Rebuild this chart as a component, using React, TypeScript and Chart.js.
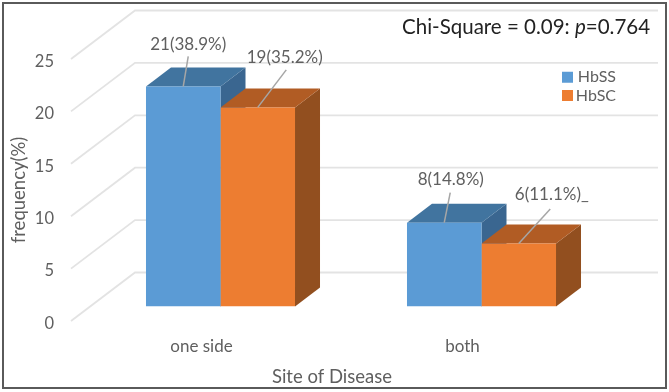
import React, { useEffect, useRef } from "react";
import { Chart, registerables } from "chart.js";

Chart.register(...registerables);

const categories = ["one side", "both"];
const hbssValues = [21, 8];
const hbscValues = [19, 6];
const hbssLabels = ["21(38.9%)", "8(14.8%)"];
const hbscLabels = ["19(35.2%)", "6(11.1%)_"];
const yTicks = [0, 5, 10, 15, 20, 25];
const xTitle = "Site of Disease";
const yTitle = "frequency(%)";

// [leader dx, leader dy, label dx, label dy] relative to the bar's front-top centre
const hbssCallouts = [
  [5, -30, 5, -41.5],
  [6, -30, 6.5, -43.5],
];
const hbscCallouts = [
  [28.5, -37.5, 27, -49.5],
  [31.5, -34.6, 33, -49.6],
];

const FONT = "Lato";
const TEXT = "#5f5f5f";
const DEPTH = { dx: 25, dy: -19 };
const WALL = { frontDy: 14.5, backDy: -34, frontX: 71, backX: 135, right: 658 };
const faceColors = [
  { top: "#41749f", side: "#3a6690" },
  { top: "#b15c24", side: "#924f1f" },
];

const poly = (ctx: CanvasRenderingContext2D, pts: number[][], fill: string) => {
  ctx.beginPath();
  pts.forEach((p, i) => (i ? ctx.lineTo(p[0], p[1]) : ctx.moveTo(p[0], p[1])));
  ctx.closePath();
  ctx.fillStyle = fill;
  ctx.fill();
};

const scene = {
  id: "scene",
  afterLayout(chart: any) {
    const l = chart.legend;
    l.left = 559.7;
    l.right = 616;
    l.top = 67;
    l.bottom = 130;
  },
  beforeDraw(chart: any) {
    const { ctx } = chart;
    ctx.save();
    ctx.fillStyle = "#ffffff";
    ctx.fillRect(0, 0, chart.width, chart.height);
    ctx.strokeStyle = "#5a5a5a";
    ctx.lineWidth = 2;
    ctx.strokeRect(3, 3, 663, 385);
    ctx.restore();
  },
  beforeDatasetsDraw(chart: any) {
    const { ctx } = chart;
    const y = chart.scales.y;
    ctx.save();
    ctx.strokeStyle = "#e3e3e3";
    ctx.lineWidth = 1.8;
    yTicks.forEach((t) => {
      const py = y.getPixelForValue(t);
      ctx.beginPath();
      ctx.moveTo(WALL.frontX, py + WALL.frontDy);
      ctx.lineTo(WALL.backX, py + WALL.backDy);
      ctx.lineTo(WALL.right, py + WALL.backDy);
      ctx.stroke();
    });
    chart.data.datasets.forEach((_: any, di: number) => {
      chart.getDatasetMeta(di).data.forEach((bar: any) => {
        const x0 = bar.x - bar.width / 2;
        const x1 = bar.x + bar.width / 2;
        const { dx, dy } = DEPTH;
        poly(ctx, [[x1, bar.y], [x1, bar.base], [x1 + dx, bar.base + dy], [x1 + dx, bar.y + dy]], faceColors[di].side);
        poly(ctx, [[x0, bar.y], [x1, bar.y], [x1 + dx, bar.y + dy], [x0 + dx, bar.y + dy]], faceColors[di].top);
      });
    });
    ctx.restore();
  },
  afterDatasetsDraw(chart: any) {
    const { ctx } = chart;
    ctx.save();
    const sets = [
      { labels: hbssLabels, callouts: hbssCallouts },
      { labels: hbscLabels, callouts: hbscCallouts },
    ];
    sets.forEach((set, di) => {
      chart.getDatasetMeta(di).data.forEach((bar: any, i: number) => {
        const c = set.callouts[i];
        ctx.strokeStyle = "#a6a6a6";
        ctx.lineWidth = 1.5;
        ctx.beginPath();
        ctx.moveTo(bar.x, bar.y);
        ctx.lineTo(bar.x + c[0], bar.y + c[1]);
        ctx.stroke();
        ctx.fillStyle = TEXT;
        ctx.font = `17px ${FONT}`;
        ctx.textAlign = "center";
        ctx.textBaseline = "middle";
        ctx.fillText(set.labels[i], bar.x + c[2], bar.y + c[3]);
      });
    });

    // axis titles
    ctx.fillStyle = TEXT;
    ctx.font = `18.5px ${FONT}`;
    ctx.textAlign = "center";
    ctx.textBaseline = "middle";
    ctx.fillText(xTitle, 332, 377);
    ctx.save();
    ctx.translate(19, 190);
    ctx.rotate(-Math.PI / 2);
    ctx.fillText(yTitle, 0, 0);
    ctx.restore();

    // statistic note
    ctx.fillStyle = "#222222";
    ctx.textAlign = "left";
    const parts: [string, string][] = [
      ["Chi-Square = 0.09: ", `20.5px ${FONT}`],
      ["p", `italic 20.5px ${FONT}`],
      ["=0.764", `20.5px ${FONT}`],
    ];
    let x = 402;
    parts.forEach(([t, f]) => {
      ctx.font = f;
      ctx.fillText(t, x, 27);
      x += ctx.measureText(t).width;
    });
    ctx.restore();
  },
};

export default function App() {
  const ref = useRef<HTMLCanvasElement>(null);
  useEffect(() => {
    document.body.style.margin = "0";
    const chart = new Chart(ref.current!, {
      type: "bar",
      data: {
        labels: categories,
        datasets: [
          { label: "HbSS", data: hbssValues, backgroundColor: "#5b9bd5", borderWidth: 0 },
          { label: "HbSC", data: hbscValues, backgroundColor: "#ed7d31", borderWidth: 0 },
        ],
      },
      options: {
        responsive: false,
        animation: false,
        layout: { padding: { top: 44.5, right: 57, left: 0, bottom: 0 } },
        datasets: { bar: { categoryPercentage: 0.571, barPercentage: 1 } },
        plugins: {
          tooltip: { enabled: false },
          title: { display: false },
          legend: {
            position: "chartArea",
            align: "start",
            labels: {
              boxWidth: 11,
              boxHeight: 11,
              padding: 2.3,
              color: TEXT,
              textAlign: "right",
              font: { family: FONT, size: 16 },
            },
          },
        },
        scales: {
          x: {
            grid: { display: false },
            border: { display: false },
            afterFit: (s: any) => {
              s.height = 85.5;
            },
            ticks: {
              labelOffset: -19,
              padding: 21.5,
              maxRotation: 0,
              color: TEXT,
              font: { family: FONT, size: 17 },
            },
          },
          y: {
            min: 0,
            max: 25,
            grid: { display: false },
            border: { display: false },
            afterFit: (s: any) => {
              s.width = 90;
            },
            ticks: {
              stepSize: 5,
              labelOffset: 17,
              padding: 28,
              color: TEXT,
              font: { family: FONT, size: 16.5 },
            },
          },
        },
      },
      plugins: [scene],
    } as any);
    return () => chart.destroy();
  }, []);
  return <canvas ref={ref} width={669} height={392} style={{ display: "block" }} />;
}
